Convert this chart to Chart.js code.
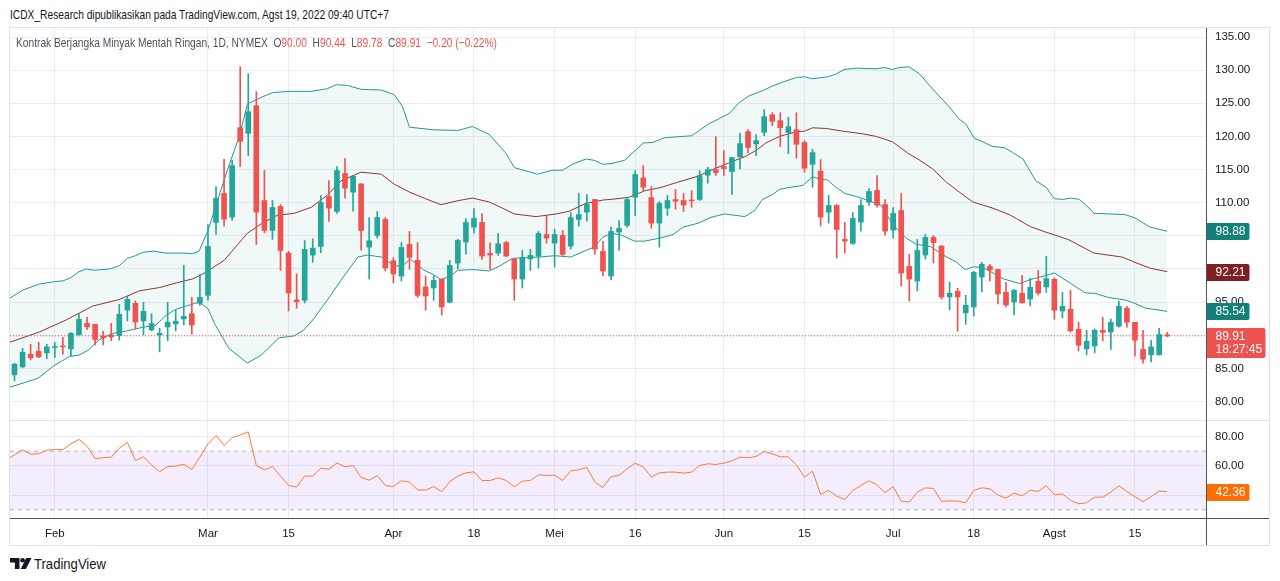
<!DOCTYPE html>
<html>
<head>
<meta charset="utf-8">
<script src="https://cdn.jsdelivr.net/npm/chart.js@4.4.1/dist/chart.umd.min.js"></script>
<style>
html,body{margin:0;padding:0;background:#fff;width:1280px;height:581px;overflow:hidden;font-family:'Liberation Sans',Arial,sans-serif;}
#wrap{position:relative;width:1280px;height:581px;}
.abs{position:absolute;}
.ln{position:absolute;background:#e0e3eb;}
.dk{position:absolute;background:#50535e;}
#pub{left:10px;top:7px;font-size:13.5px;color:#131722;white-space:nowrap;transform-origin:0 0;}
#legend{left:16px;top:35px;font-size:13px;color:#50535e;white-space:nowrap;transform-origin:0 0;z-index:5;}
#legend .v{color:#ef5350;}
#foot{left:34px;top:555px;font-size:15px;color:#131722;white-space:nowrap;transform-origin:0 0;}
</style>
</head>
<body>
<div id="wrap">
  <div id="pub" class="abs">ICDX_Research dipublikasikan pada TradingView.com, Agst 19, 2022 09:40 UTC+7</div>
  <div id="pricebox" class="abs" style="left:0;top:28px;width:1280px;height:393px;"><canvas id="cPrice"></canvas></div>
  <div id="rsibox" class="abs" style="left:0;top:421px;width:1280px;height:125px;"><canvas id="cRsi"></canvas></div>
  <div id="legend" class="abs"></div>

  <div class="ln" style="left:9px;top:27px;width:1261px;height:1px;"></div>
  <div class="ln" style="left:9px;top:27px;width:1px;height:519px;"></div>
  <div class="ln" style="left:1269px;top:27px;width:1px;height:519px;"></div>
  <div class="ln" style="left:9px;top:545px;width:1261px;height:1px;"></div>
  <div class="ln" style="left:10px;top:420px;width:1259px;height:1px;"></div>
  <div class="dk" style="left:10px;top:518px;width:1259px;height:1px;"></div>
  <div class="dk" style="left:1206px;top:28px;width:1px;height:517px;"></div>

  <svg class="abs" style="left:10px;top:558px" width="22" height="11" viewBox="0 0 22 11">
    <path d="M0 0h9.5v11h-4.6v-6.6h-4.9z" fill="#131722"/>
    <circle cx="12.6" cy="2.3" r="2.3" fill="#131722"/>
    <path d="M16.2 0h5.3l-5.6 11h-5.2z" fill="#131722"/>
  </svg>
  <div id="foot" class="abs">TradingView</div>
</div>

<script>
// ---------------- DATA ----------------
const instrument = 'Kontrak Berjangka Minyak Mentah Ringan, 1D, NYMEX';

// bar index 0 = 25 Jan 2022 ... 143 = 19 Aug 2022
const opens = [84.03,85.23,87.14,87.59,87.34,88.14,88.34,87.94,90.05,91.81,
 91.66,89.9,90.05,89.95,93.8,94.82,92.16,90.8,90.05,91.26,
 91.71,92.46,93.26,94.82,96.02,107.02,111.39,107.82,121.33,120.47,
 124.64,110.33,105.81,109.43,102.4,95.32,95.27,102.1,103.4,110.93,
 108.67,114.4,111.59,112.84,103.3,105.06,107.47,101.24,98.94,103.7,
 101.3,97.28,97.13,98.43,94.97,100.89,104.06,106.32,107.02,102.35,
 102.4,104.0,101.5,98.48,101.5,101.95,105.21,103.9,105.06,103.45,
 107.47,108.57,110.48,102.65,98.94,105.56,106.57,110.83,113.75,110.78,
 106.92,109.18,110.48,110.33,110.38,110.48,114.15,115.0,115.45,114.7,
 116.93,120.72,118.87,120.62,123.28,122.38,120.58,121.02,119.07,115.8,
 114.75,108.57,109.58,104.46,103.86,107.07,110.08,111.84,109.73,105.86,
 108.82,100.39,98.18,102.1,104.76,103.45,95.77,96.63,93.36,94.27,
 98.78,100.39,99.94,96.48,95.02,96.33,95.47,98.13,97.28,98.43,
 93.66,93.92,90.9,87.94,88.39,90.75,90.5,91.36,94.07,91.96,
 87.89,87.04,87.04,90.00];
const highs = [85.78,88.04,88.64,88.94,88.64,88.9,89.7,90.4,93.26,92.71,
 91.66,90.6,91.8,94.67,95.87,95.17,94.97,93.26,91.05,94.97,
 93.87,100.54,95.72,99.2,106.7,112.44,116.56,116.4,130.51,129.46,
 126.75,114.85,110.33,109.73,102.65,99.24,104.3,104.56,111.08,113.34,
 115.45,116.66,114.1,112.84,107.72,108.67,107.77,101.7,104.0,105.66,
 104.0,98.94,98.99,98.53,101.3,104.46,107.62,109.13,108.37,104.0,
 105.36,104.16,101.5,102.8,102.95,105.66,107.97,106.0,105.81,108.52,
 111.39,111.23,110.48,104.16,106.32,107.32,110.83,114.85,115.6,112.44,
 110.18,111.08,111.99,111.39,111.84,114.85,115.35,119.97,117.86,116.86,
 120.52,121.02,120.27,124.03,123.58,123.58,122.88,123.58,119.37,118.06,
 116.5,111.08,109.73,107.02,108.52,110.48,112.14,114.1,110.48,109.28,
 111.39,102.2,104.46,105.21,105.06,103.55,97.98,97.08,96.02,99.64,
 100.99,100.69,99.94,97.98,96.93,99.04,98.58,99.79,101.9,98.68,
 96.48,96.78,91.96,90.75,90.95,92.71,92.46,95.12,94.37,91.96,
 90.75,89.25,91.05,90.44];
const lows = [83.12,85.08,86.29,86.64,86.44,86.64,87.14,86.84,90.05,90.85,
 88.54,88.54,89.15,89.25,92.16,90.95,90.05,90.65,87.49,89.2,
 90.65,91.56,90.15,94.5,95.3,105.21,106.47,107.32,115.45,117.11,
 103.7,105.46,104.46,99.79,93.66,94.07,94.87,100.99,102.45,107.17,
 108.37,110.68,108.72,102.85,98.48,104.66,99.69,97.88,98.18,99.94,
 95.72,93.77,95.27,93.06,94.87,99.99,102.25,105.41,101.45,99.94,
 102.05,101.85,95.27,97.13,99.79,100.14,103.9,100.24,102.05,103.0,
 106.47,107.22,102.25,98.94,98.33,102.8,106.32,108.07,111.74,106.16,
 103.3,108.07,109.03,108.67,109.33,110.33,112.94,114.1,114.1,111.23,
 115.1,117.56,117.11,120.12,121.62,118.47,117.41,116.71,114.6,112.34,
 106.47,106.92,101.65,102.4,103.7,105.71,109.58,109.33,105.11,104.66,
 97.43,95.17,96.68,101.5,100.89,95.47,93.82,90.6,91.66,92.91,
 96.53,98.18,94.72,94.27,93.06,94.87,94.42,96.07,96.48,92.41,
 92.61,90.5,87.64,87.04,87.34,89.15,87.84,91.2,91.2,86.84,
 85.78,85.98,87.04,89.78];
const closes = [85.63,87.44,86.59,86.74,88.24,88.24,88.24,90.30,92.41,91.26,
 89.35,89.65,89.75,93.16,95.42,92.0,93.61,91.76,90.3,91.96,
 92.11,92.86,91.56,95.72,103.4,110.68,107.52,115.6,119.27,123.73,
 108.57,105.81,109.28,102.8,96.38,95.07,102.95,103.15,110.03,109.18,
 114.85,112.19,113.99,105.81,104.26,107.77,100.14,99.24,103.25,101.75,
 96.02,95.92,98.28,94.27,100.54,104.31,107.02,107.62,101.95,102.1,
 103.8,101.95,98.48,101.75,102.05,105.36,104.66,105.21,102.2,107.77,
 108.22,109.78,103.0,99.69,105.66,106.11,110.48,114.25,112.34,106.92,
 109.88,110.33,110.23,109.63,110.28,114.1,115.0,114.55,115.15,116.81,
 118.92,118.32,119.37,122.98,122.28,121.33,121.48,118.82,115.2,117.56,
 107.82,109.58,105.96,104.21,107.62,109.58,111.69,109.63,105.71,108.37,
 99.39,98.48,102.8,104.76,104.0,95.77,96.33,95.77,94.52,99.49,
 100.69,99.84,96.22,94.57,96.78,94.87,97.23,96.38,98.53,93.77,
 94.37,90.65,88.49,89.1,90.75,90.45,91.96,94.37,91.96,89.25,
 86.39,88.24,90.11,89.91];

// Bollinger band lines as drawn: [bar index, price]
const upperBand = [[-0.7,95.5],[1,96.8],[3,97.7],[5,98.1],[6,98.2],[7,98.7],[8,99.6],[8.9,100.0],[9.9,99.8],[11.8,100.0],[13,100.5],[14,101.6],[15,102.0],[15.9,102.5],[17.2,102.7],[18.8,102.4],[20.8,102.4],[22.1,102.3],[22.9,102.7],[24,105.8],[26.4,114.9],[27.9,120.1],[28.9,124.9],[30.6,125.9],[32,126.6],[33.9,126.8],[36.8,126.8],[38.8,127.2],[39.9,127.8],[41.3,127.7],[43,127.1],[45.5,127.0],[47.1,126.3],[48.1,124.6],[49,121.4],[51.9,121.0],[55,120.9],[56.8,121.5],[58.9,120.3],[61,117.4],[62,115.3],[64.9,114.3],[66.7,114.9],[68,114.9],[69.2,115.8],[70.9,116.6],[71.9,116.4],[73,115.8],[74,115.9],[75.7,116.4],[78,119.0],[79.2,119.1],[80.6,119.8],[84,120.1],[86,121.8],[88.7,123.5],[89.9,125.1],[91.1,126.1],[92.8,126.9],[94,127.6],[95.3,128.2],[97,128.9],[98,129.0],[99,128.7],[100.9,129.0],[101.9,129.4],[102.9,130.1],[104.4,130.3],[106.9,130.2],[107.9,130.4],[108.9,130.1],[109.8,130.4],[111,130.5],[112.3,129.4],[113.5,127.7],[114.7,126.1],[116,124.4],[117.2,122.6],[118,121.9],[119.1,119.7],[120.1,119.2],[121.3,118.5],[122.8,118.3],[123.8,117.6],[125.1,116.6],[126.7,113.3],[128,112.3],[129,110.6],[130,110.5],[131.1,110.7],[132.1,110.5],[133.3,109.2],[133.9,108.4],[137.8,108.2],[139,107.7],[140.9,106.3],[143,105.7]];
const middleBand = [[-0.7,88.9],[3.1,90.5],[6.4,92.3],[9.7,94.4],[13,95.4],[15.5,96.7],[18,97.2],[20.4,98.0],[22.1,98.5],[23.3,99.2],[24.6,100.2],[26,101.3],[28.9,105.4],[30.6,106.8],[32.6,108.1],[34.7,108.4],[36.8,109.3],[38.8,111.1],[40.5,113.3],[43,114.6],[45.5,114.3],[47.1,112.8],[49,111.6],[51,110.6],[52.9,109.7],[55,110.3],[56.8,110.7],[58.9,110.1],[60.5,109.2],[62,108.3],[64.7,107.9],[67.2,108.3],[68.8,108.7],[70.9,109.9],[73,110.4],[74,110.5],[76.2,110.8],[78.2,111.8],[80.2,112.3],[82.3,113.1],[84.8,114.0],[86.4,114.9],[88.6,116.0],[90.7,117.0],[92,117.9],[93.2,119.0],[94.9,120.0],[97,120.7],[98,120.8],[99,121.3],[100.7,121.2],[102.7,120.8],[105.2,120.4],[106.9,120.0],[108.9,119.2],[110.8,117.5],[112.3,116.4],[113.9,115.1],[115.6,113.1],[117.2,111.6],[118.9,110.1],[121.3,109.2],[123.4,108.2],[124.3,107.6],[126,106.4],[127.6,105.7],[129.1,105.1],[130.8,104.4],[133.9,102.4],[137.4,101.8],[139,101.0],[140.9,100.1],[143,99.6]];
const lowerBand = [[-0.7,82.1],[2.9,83.5],[4.9,85.4],[6.8,86.8],[8,87.0],[9.1,87.7],[10.5,89.3],[12.2,90.3],[13.8,90.6],[15.9,91.2],[17.5,91.5],[18.8,93.0],[20,93.9],[21.3,94.4],[22.9,95.0],[24,94.0],[24.8,91.8],[26.6,88.0],[28.9,85.8],[30.6,87.0],[32.8,89.6],[34.7,89.9],[35.9,90.8],[37,92.3],[38.8,95.3],[40.5,98.3],[42.6,101.8],[43.8,102.1],[45.5,101.8],[47.1,100.5],[48.1,100.4],[49.1,101.5],[50.8,99.8],[51.9,99.2],[52.9,98.4],[53.9,98.8],[55,99.8],[57,99.9],[58.9,99.7],[60.1,100.4],[61.8,101.6],[63.4,101.7],[65.1,101.8],[67,102.0],[68,101.9],[69,101.8],[70.9,102.8],[71.9,103.3],[73,104.8],[74.1,105.4],[75.3,105.1],[76.9,104.2],[78.2,104.2],[80.2,104.7],[81.7,105.2],[82.9,106.3],[84.8,106.9],[86.4,107.8],[88.1,108.3],[90.6,107.9],[91.8,108.8],[92.8,110.5],[94,111.2],[94.9,112.0],[96.1,112.3],[97.8,112.6],[99,113.9],[99.8,113.6],[100.9,113.4],[101.6,112.6],[103,111.4],[104.5,110.9],[106,110.3],[107.5,109.6],[109,106.6],[110.7,104.6],[111.9,103.7],[113.6,103.4],[115.2,102.1],[116.9,101.0],[117.9,99.9],[118.9,100.3],[120.2,100.2],[122.7,98.5],[124.7,97.8],[126,98.4],[127.6,98.9],[129,99.4],[130.8,98.0],[132.8,96.4],[134.1,96.3],[135.7,95.7],[137.8,95.3],[139,94.8],[140.3,94.1],[143,93.6]];
const bandLabelTexts = ['98.88', '92.21', '85.54'];   // upper, basis, lower (as printed on the axis)
const countdownText = '18:27:45';

// RSI, one value per bar, starting at bar index -1
const rsiFirstIndex = -1;
const rsiValues = [64.0,
 67.5,70.9,68.0,68.2,70.7,71.1,71.1,75.0,78.0,73.4,
 65.0,65.5,65.9,72.0,76.1,63.6,66.1,60.7,55.9,59.5,
 59.8,61.1,57.5,65.9,75.0,80.7,73.9,79.3,81.1,83.2,
 60.2,57.3,59.5,53.0,46.6,45.5,53.0,53.0,58.4,57.7,
 62.0,59.3,60.2,52.0,50.2,53.4,46.6,45.9,49.8,48.9,
 43.6,43.4,45.9,42.3,49.3,53.0,55.2,55.9,50.0,50.0,
 51.8,50.0,45.7,49.5,50.0,53.9,53.4,53.6,50.0,56.6,
 57.3,58.9,48.9,45.2,52.7,53.4,58.0,61.8,59.3,52.3,
 55.2,55.7,55.7,55.0,55.7,60.2,61.4,60.9,61.8,63.4,
 65.9,65.5,66.4,69.8,68.2,66.1,66.1,60.7,52.3,56.4,
 40.5,43.2,39.3,37.0,43.2,46.6,49.8,47.0,41.6,45.9,
 35.9,35.2,42.0,45.0,44.5,35.7,36.1,35.9,34.8,43.2,
 45.0,44.3,40.0,38.0,41.4,39.5,43.4,42.5,46.4,40.2,
 40.9,36.4,34.1,34.8,38.6,38.6,42.0,46.4,42.5,38.9,
 35.5,38.9,42.7,42.36];
const rsiLevels = [70, 30];

// time axis
const tickIdx  = [5, 24, 34, 47, 57, 67, 77, 88, 98, 109, 119, 129, 139];
const tickText = ['Feb','Mar','15','Apr','18','Mei','16','Jun','15','Jul','18','Agst','15'];
const priceTicks = [80,85,90,95,100,105,110,115,120,125,130,135];
const rsiTicks = [80, 60, 40];

// ---------------- STYLE / LAYOUT ----------------
const UP = '#26a69a', DOWN = '#ef5350';
const BAND = '#2a968f', BASIS = '#8e3434';
const BAND_TAG = '#13807a', BASIS_TAG = '#801f1f';
const GRID = '#e9eef4';
const XMIN = -0.558, XMAX = 147.81;
const AXIS_W = 64;
const FONT = 'Liberation Sans';

Chart.defaults.font.family = FONT;
Chart.defaults.font.size = 11;
Chart.defaults.color = '#131722';
Chart.defaults.animation = false;

const n = closes.length;
const last = n - 1;
const prevClose = closes[last - 1];
const fmt = v => v.toFixed(2);
const minus = s => s.replace('-', '\u2212');

// legend
(function(){
  const chg = closes[last] - prevClose;
  const pct = chg / prevClose * 100;
  const lg = document.getElementById('legend');
  lg.innerHTML = instrument + '&nbsp;&nbsp;O<span class="v">' + fmt(opens[last]) + '</span>&nbsp;&nbsp;H<span class="v">' + fmt(highs[last]) +
    '</span>&nbsp;&nbsp;L<span class="v">' + fmt(lows[last]) + '</span>&nbsp;&nbsp;C<span class="v">' + fmt(closes[last]) +
    '</span>&nbsp;&nbsp;<span class="v">' + minus(fmt(chg)) + ' (' + minus(fmt(pct)) + '%)</span>';
})();

const candleColor = closes.map((c, i) => c >= opens[i] ? UP : DOWN);
const toXY = arr => arr.map(p => ({x: p[0], y: p[1]}));
const bandEnds = [upperBand[upperBand.length-1][1], middleBand[middleBand.length-1][1], lowerBand[lowerBand.length-1][1]];
const priceMarkers = bandEnds.concat([closes[last]]);

function tagBox(ctx, x, y, w, h, r, color){
  ctx.fillStyle = color;
  ctx.beginPath();
  ctx.moveTo(x, y);
  ctx.lineTo(x + w - r, y);
  ctx.arcTo(x + w, y, x + w, y + r, r);
  ctx.lineTo(x + w, y + h - r);
  ctx.arcTo(x + w, y + h, x + w - r, y + h, r);
  ctx.lineTo(x, y + h);
  ctx.closePath();
  ctx.fill();
}

const priceTags = {
  id: 'priceTags',
  afterDraw(chart){
    const ctx = chart.ctx, ys = chart.scales.y, x0 = chart.chartArea.right + 0.5;
    ctx.save();
    ctx.font = '12px ' + FONT;
    ctx.textBaseline = 'middle';
    const cols = [BAND_TAG, BASIS_TAG, BAND_TAG];
    bandEnds.forEach((v, k) => {
      const py = Math.round(ys.getPixelForValue(v));
      tagBox(ctx, x0, py - 8, 43, 17, 2, cols[k]);
      ctx.fillStyle = '#fff';
      ctx.fillText(bandLabelTexts[k], x0 + 9, py + 0.5);
    });
    const py = Math.round(ys.getPixelForValue(closes[last]));
    tagBox(ctx, x0, py - 8, 59, 30, 2, DOWN);
    ctx.fillStyle = '#fff';
    ctx.fillText(fmt(closes[last]), x0 + 9, py + 0.5);
    ctx.fillText(countdownText, x0 + 9, py + 13.5);
    ctx.restore();
  }
};

const rsiTags = {
  id: 'rsiTags',
  afterDraw(chart){
    const ctx = chart.ctx, ys = chart.scales.y, x0 = chart.chartArea.right + 0.5;
    const v = rsiValues[rsiValues.length - 1];
    const py = Math.round(ys.getPixelForValue(v));
    ctx.save();
    ctx.font = '12px ' + FONT;
    ctx.textBaseline = 'middle';
    tagBox(ctx, x0, py - 8, 43, 17, 2, '#ff6d00');
    ctx.fillStyle = '#fff';
    ctx.fillText(fmt(v), x0 + 9, py + 0.5);
    ctx.restore();
  }
};

const noPad = s => { s.paddingTop = 0; s.paddingBottom = 0; s.paddingLeft = 0; s.paddingRight = 0; };

const xScaleBase = (showLabels) => ({
  type: 'linear', min: XMIN, max: XMAX, offset: false,
  afterBuildTicks: s => { s.ticks = tickIdx.map(v => ({value: v})); },
  afterFit: s => { s.height = showLabels ? 27 : 0; noPad(s); },
  grid: {color: GRID, drawTicks: false, offset: false},
  border: {display: false},
  ticks: {display: showLabels, autoSkip: false, maxRotation: 0, padding: 8,
          callback: (v, i) => tickText[i], color: '#131722', font: {size: 11.5}}
});

// ---------------- PRICE PANE ----------------
new Chart(document.getElementById('cPrice'), {
  type: 'bar',
  data: {
    datasets: [
      {type: 'line', data: toXY(lowerBand), borderColor: BAND, borderWidth: 1, pointRadius: 0, tension: 0, fill: false, order: 20},
      {type: 'line', data: toXY(middleBand), borderColor: BASIS, borderWidth: 1, pointRadius: 0, tension: 0, fill: false, order: 19},
      {type: 'line', data: toXY(upperBand), borderColor: BAND, borderWidth: 1, pointRadius: 0, tension: 0,
        fill: '-2', backgroundColor: 'rgba(42,150,143,0.065)', order: 21},
      {type: 'line', data: [{x: XMIN, y: closes[last]}, {x: XMAX, y: closes[last]}], borderColor: DOWN, borderWidth: 1,
        borderDash: [1, 2], pointRadius: 0, fill: false, order: 18},
      {type: 'bar', data: closes.map((c, i) => ({x: i, y: [lows[i], highs[i]]})), backgroundColor: candleColor,
        barThickness: 1, grouped: false, borderWidth: 0, order: 6},
      {type: 'bar', data: closes.map((c, i) => ({x: i, y: [opens[i], c]})), backgroundColor: candleColor,
        barThickness: 5, minBarLength: 1, grouped: false, borderWidth: 0, order: 5}
    ]
  },
  options: {
    responsive: true, maintainAspectRatio: false, devicePixelRatio: 1,
    layout: {autoPadding: false, padding: {left: 10, right: 10, top: 0, bottom: 0}},
    plugins: {legend: {display: false}, tooltip: {enabled: false}},
    events: [],
    scales: {
      x: xScaleBase(false),
      y: {
        type: 'linear', position: 'right', min: 77.06, max: 136.36,
        afterBuildTicks: s => { s.ticks = priceTicks.map(v => ({value: v})); },
        afterFit: s => { s.width = AXIS_W; noPad(s); },
        grid: {color: GRID, drawTicks: false},
        border: {display: false},
        ticks: {padding: 9, color: '#131722', font: {size: 11.5},
          callback: v => priceMarkers.some(m => Math.abs(m - v) < 1.3) ? '' : fmt(v)}
      }
    }
  },
  plugins: [priceTags]
});

// ---------------- RSI PANE ----------------
const rsiPoints = rsiValues.map((v, k) => ({x: rsiFirstIndex + k, y: v}));
new Chart(document.getElementById('cRsi'), {
  type: 'line',
  data: {
    datasets: [
      {data: rsiPoints, borderColor: '#ff7a2f', borderWidth: 1, pointRadius: 0, tension: 0, fill: false, order: 1},
      {data: [{x: XMIN, y: rsiLevels[0]}, {x: XMAX, y: rsiLevels[0]}], borderColor: 'rgba(120,123,134,0.55)', borderWidth: 1,
        borderDash: [4, 4], pointRadius: 0, fill: '+1', backgroundColor: 'rgba(149,76,233,0.1)', order: 3},
      {data: [{x: XMIN, y: rsiLevels[1]}, {x: XMAX, y: rsiLevels[1]}], borderColor: 'rgba(120,123,134,0.55)', borderWidth: 1,
        borderDash: [4, 4], pointRadius: 0, fill: false, order: 2}
    ]
  },
  options: {
    responsive: true, maintainAspectRatio: false, devicePixelRatio: 1,
    layout: {autoPadding: false, padding: {left: 10, right: 10, top: 0, bottom: 0}},
    plugins: {legend: {display: false}, tooltip: {enabled: false}},
    events: [],
    scales: {
      x: xScaleBase(true),
      y: {
        type: 'linear', position: 'right', min: 23.7, max: 90.6,
        afterBuildTicks: s => { s.ticks = rsiTicks.map(v => ({value: v})); },
        afterFit: s => { s.width = AXIS_W; noPad(s); },
        grid: {color: GRID, drawTicks: false},
        border: {display: false},
        ticks: {padding: 9, color: '#131722', font: {size: 11.5},
          callback: v => Math.abs(v - rsiValues[rsiValues.length-1]) < 5 ? '' : fmt(v)}
      }
    }
  },
  plugins: [rsiTags]
});

// fit header texts to the reference widths
function fitWidth(id, w){
  const el = document.getElementById(id);
  const r = el.getBoundingClientRect().width;
  if (r > 0) el.style.transform = 'scaleX(' + (w / r) + ')';
}
fitWidth('pub', 379);
fitWidth('legend', 481);
fitWidth('foot', 72);
</script>
</body>
</html>
